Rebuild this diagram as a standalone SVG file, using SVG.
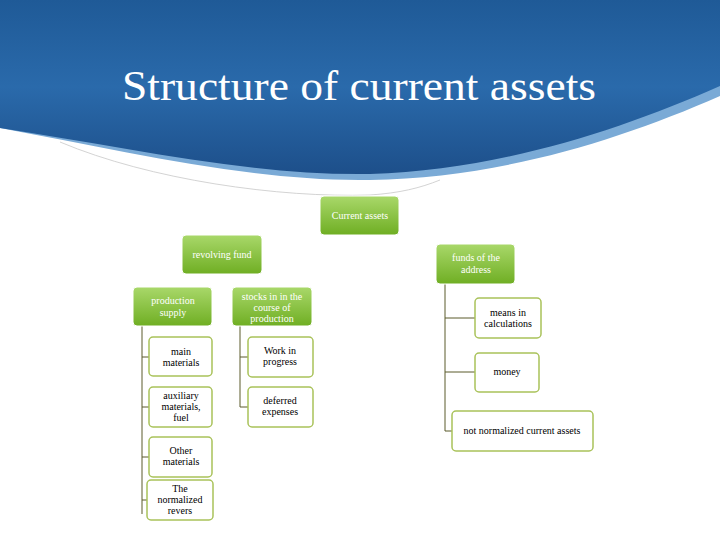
<svg xmlns="http://www.w3.org/2000/svg" width="720" height="540" viewBox="0 0 720 540">
<defs>
<linearGradient id="blue" x1="0" y1="0" x2="0" y2="1">
<stop offset="0" stop-color="#1f5a97"/><stop offset="0.5" stop-color="#2a6aab"/><stop offset="1" stop-color="#1d4f8a"/>
</linearGradient>
<linearGradient id="green" x1="0" y1="0" x2="0" y2="1">
<stop offset="0" stop-color="#a9d86a"/><stop offset="1" stop-color="#6fae23"/>
</linearGradient>
<style>
.g rect{fill:url(#green);stroke:#ffffff;stroke-width:1}
.g text{fill:#ffffff;font-family:"Liberation Serif",serif;font-size:10px;text-anchor:middle}
.w rect{fill:#ffffff;stroke:#a9c25a;stroke-width:1.5}
.w text{fill:#000000;font-family:"Liberation Serif",serif;font-size:10px;text-anchor:middle}
.c{stroke:#5a5a2a;stroke-width:1;fill:none}
</style>
</defs>
<rect width="720" height="540" fill="#ffffff"/>
<path d="M0,0 H720 V96 C620,140 500,178 370,180 C250,182 120,150 0,128 Z" fill="#7aaad6"/>
<path d="M0,0 H720 V86 C620,130 500,170 370,174 C250,176 120,146 0,128 Z" fill="url(#blue)"/>
<path d="M60,142 C150,180 280,198 370,195 C400,193 420,188 440,180" fill="none" stroke="#c8c8c8" stroke-width="0.8"/>
<text x="359" y="100" fill="#ffffff" font-family="Liberation Serif,serif" font-size="43" text-anchor="middle" textLength="474" lengthAdjust="spacingAndGlyphs">Structure of current assets</text>
<g id="connectors">
<path class="c" d="M142,326 V514 M142,357 H149 M142,407 H149 M142,457 H149 M142,500 H147"/>
<path class="c" d="M240,326 V407 M240,357 H248 M240,407 H248"/>
<path class="c" d="M445,284 V431 M445,318 H475 M445,372 H475 M445,431 H452"/>
</g>
<g id="n1" class="g"><rect x="320" y="196" width="79" height="39" rx="4"/><text x="360" y="219">Current assets</text></g>
<g id="n2" class="g"><rect x="182" y="235" width="80" height="39" rx="4"/><text x="222" y="258">revolving fund</text></g>
<g id="n3" class="g"><rect x="436" y="244" width="79" height="40" rx="4"/><text x="476" y="261">funds of the</text><text x="476" y="273">address</text></g>
<g id="n4" class="g"><rect x="133" y="287" width="79" height="39" rx="4"/><text x="173" y="304">production</text><text x="173" y="316">supply</text></g>
<g id="n5" class="g"><rect x="232" y="287" width="80" height="39" rx="4"/><text x="272" y="300">stocks in in the</text><text x="272" y="311">course of</text><text x="272" y="322">production</text></g>
<g id="n6" class="w"><rect x="149" y="337" width="63" height="39" rx="4"/><text x="181" y="355">main</text><text x="181" y="366">materials</text></g>
<g id="n7" class="w"><rect x="149" y="387" width="63" height="40" rx="4"/><text x="181" y="399">auxiliary</text><text x="181" y="410">materials,</text><text x="181" y="421">fuel</text></g>
<g id="n8" class="w"><rect x="149" y="437" width="63" height="40" rx="4"/><text x="181" y="454">Other</text><text x="181" y="465">materials</text></g>
<g id="n9" class="w"><rect x="147" y="480" width="66" height="40" rx="4"/><text x="180" y="492">The</text><text x="180" y="503">normalized</text><text x="180" y="514">revers</text></g>
<g id="n10" class="w"><rect x="248" y="337" width="65" height="40" rx="4"/><text x="280" y="354">Work in</text><text x="280" y="365">progress</text></g>
<g id="n11" class="w"><rect x="248" y="387" width="65" height="40" rx="4"/><text x="280" y="404">deferred</text><text x="280" y="415">expenses</text></g>
<g id="n12" class="w"><rect x="475" y="298" width="66" height="40" rx="4"/><text x="508" y="316">means in</text><text x="508" y="327">calculations</text></g>
<g id="n13" class="w"><rect x="475" y="353" width="64" height="39" rx="4"/><text x="507" y="375">money</text></g>
<g id="n14" class="w"><rect x="452" y="411" width="141" height="40" rx="4"/><text x="522" y="434">not normalized current assets</text></g>
</svg>
